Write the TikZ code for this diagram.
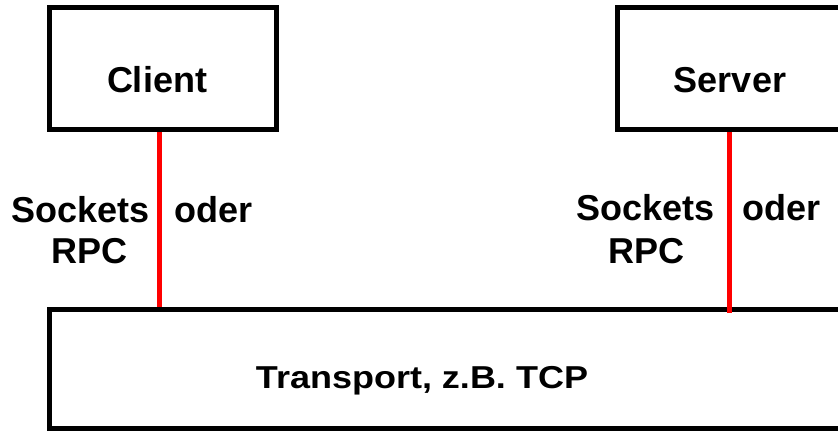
\documentclass[tikz,border=0pt]{standalone}
\usepackage{fontspec}
\setmainfont{Liberation Sans}
\usetikzlibrary{calc}

\tikzset{
    box/.style={draw, line width=5pt, minimum width=227, minimum height=122},
    lbl/.style={inner sep=0pt, font=\fontsize{36}{43}\selectfont\bfseries},
    link/.style={draw=red, line width=5pt}
}

\begin{document}
\begin{tikzpicture}[x=1pt, y=-1pt]
    \useasboundingbox (0,0) rectangle (838,431);
    \clip (0,0) rectangle (838,431);

    \node[box] (client) at (163,68.5) {};
    \node[box] (server) at (731,68.5) {};
    \node[box, anchor=north west, minimum width=850, minimum height=119] (transport) at (47,307) {};

    \node[lbl, anchor=base] (clienttxt) at (157,92) {Client};
    \node[lbl, anchor=base] (servertxt) at (730,92) {Server};
    \node[lbl, anchor=base] (tcptxt) at (422,388) {\scalebox{1}[0.88]{Transport, z.B. TCP}};

    % Schnittstelle links
    \node[lbl, anchor=base west] (csock) at (11.5,222) {Sockets};
    \node[lbl, anchor=base west] (coder) at (174,222) {oder};
    \node[lbl, anchor=base west] (crpc) at (51.5,263) {RPC};

    % Schnittstelle rechts
    \node[lbl, anchor=base west] (ssock) at (576.5,220) {Sockets};
    \node[lbl, anchor=base west] (soder) at (742,220) {oder};
    \node[lbl, anchor=base west] (srpc) at (608.5,263) {RPC};

    \draw[link] ($(client.south)+(-3.5,0)$) -- ($(client.south |- transport.north)+(-3.5,0)$);
    \draw[link] ($(server.south)+(-2,0)$) -- ($(server.south |- transport.north)+(-2,5.5)$);
\end{tikzpicture}
\end{document}
